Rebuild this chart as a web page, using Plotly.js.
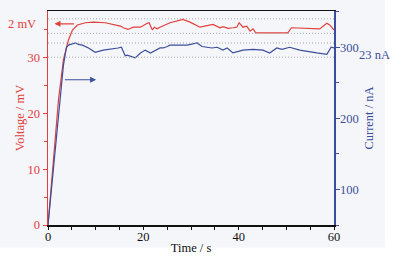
<!DOCTYPE html>
<html><head><meta charset="utf-8">
<script src="https://cdn.plot.ly/plotly-3.0.1.min.js"></script>
<style>html,body{margin:0;padding:0;background:#fff}</style>
</head><body>
<div id="chart" style="width:397px;height:260px"></div>
<script>
const voltageTime = [0,0.52,1.36,2.2,3.24,4.29,5.13,6.17,7.85,9.5,12.0,13.1,14.1,15.2,15.8,16.8,17.9,19.4,20.8,21.2,21.9,22.3,22.9,23.5,25.6,28.3,29.8,31.9,34.6,36.1,36.7,37.8,38.8,39.6,40.1,40.9,41.7,42.4,43.0,43.6,50.3,51.1,57.0,58.5,59.1,60];
const voltage = [0,5.1,13.5,22.4,29.6,33.1,34.9,35.8,36.2,36.3,36.2,36.0,35.7,35.6,35.3,35.0,35.4,35.4,36.1,36.2,34.9,35.4,35.1,35.4,36.2,36.8,36.3,35.4,35.9,35.3,35.5,35.2,35.3,35.4,36.2,35.4,35.6,34.7,35.1,34.4,34.4,35.3,35.1,36.1,35.8,34.9];
const currentTime = [0,1.15,2.2,3.24,3.87,4.29,5.75,6.4,7.2,8.5,9.9,11.6,14.7,15.4,16.2,16.6,18.3,19.4,20.4,21.5,23.5,24.2,25.0,25.6,29.2,31.3,32.3,33.4,34.4,35.5,36.7,37.6,38.8,40.9,43.0,45.1,46.5,48.0,49.1,50.7,52.8,56.4,58.5,59.4,60];
const current = [50,131,211,275,300,303,306,304,303,299,293,296,299,300,288,289,285,292,296,292,299,299,301,303,303,306,301,300,299,300,296,299,292,296,297,296,292,299,297,300,296,292,290,300,299];
const voltageBand = [34.3, 36.9];
const currentBand = [286, 306];
const voltageBandLabel = "2 mV";
const currentBandLabel = "23 nA";

const red = "#e2403c", blue = "#3b4e9c";
const font = "Liberation Serif, Times New Roman, serif";

const traces = [
  {x: voltageTime, y: voltage, type: "scatter", mode: "lines", line: {color: red, width: 1.2}, yaxis: "y", hoverinfo: "skip"},
  {x: currentTime, y: current, type: "scatter", mode: "lines", line: {color: blue, width: 1.2}, yaxis: "y2", hoverinfo: "skip"}
];

const shapes = [
  {type: "rect", xref: "paper", yref: "paper", x0: -0.17, x1: 1.178, y0: -0.105, y1: 1.06, fillcolor: "#f5f6f9", line: {width: 0}, layer: "below"}
];
voltageBand.forEach(v => shapes.push({type: "line", xref: "paper", yref: "y", x0: 0, x1: 1, y0: v, y1: v, line: {color: "#a8a8a8", width: 1, dash: "1px,2px"}}));
currentBand.forEach(v => shapes.push({type: "line", xref: "paper", yref: "y2", x0: 0, x1: 1, y0: v, y1: v, line: {color: "#a8a8a8", width: 1, dash: "1px,2px"}}));

const layout = {
  width: 397, height: 260,
  margin: {l: 47.5, r: 63, t: 11, b: 34.5},
  paper_bgcolor: "#ffffff", plot_bgcolor: "rgba(0,0,0,0)",
  showlegend: false,
  font: {family: font, size: 12, color: "#111"},
  xaxis: {range: [0, 60], dtick: 20, ticks: "outside", ticklen: 3, tickcolor: "#111", ticklabelstandoff: -4,
    minor: {dtick: 5, ticks: "outside", ticklen: 3, tickcolor: "#111"},
    showline: true, linecolor: "#111", linewidth: 1.5, mirror: true, showgrid: false, zeroline: false,
    tickfont: {family: font, size: 12.5, color: "#111"},
    title: {text: "Time / s", font: {family: font, size: 12.5, color: "#111"}, standoff: 0}},
  yaxis: {range: [0, 38.3], dtick: 10, ticks: "outside", ticklen: 4, tickcolor: red,
    minor: {dtick: 5, ticks: "outside", ticklen: 3, tickcolor: red},
    showline: true, linecolor: red, linewidth: 1.5, showgrid: false, zeroline: false,
    tickfont: {family: font, size: 12.5, color: red},
    title: {text: "Voltage / mV", font: {family: font, size: 12.5, color: red}, standoff: 0}},
  yaxis2: {range: [50, 351], dtick: 100, overlaying: "y", side: "right", ticks: "outside", ticklen: 4, tickcolor: blue, ticklabelstandoff: -2,
    minor: {dtick: 50, ticks: "outside", ticklen: 3, tickcolor: blue},
    showline: true, linecolor: blue, linewidth: 1.5, showgrid: false, zeroline: false,
    tickfont: {family: font, size: 12.5, color: blue},
    title: {text: "Current / nA", font: {family: font, size: 12.5, color: blue}, standoff: 6}},
  shapes: shapes,
  annotations: [
    {x: 1.36, y: 36.0, xref: "x", yref: "y", ax: 5.75, ay: 36.0, axref: "x", ayref: "y", showarrow: true, arrowhead: 2, arrowsize: 1, arrowwidth: 1.2, arrowcolor: red, text: ""},
    {x: 10.1, y: 26.0, xref: "x", yref: "y", ax: 3.24, ay: 26.0, axref: "x", ayref: "y", showarrow: true, arrowhead: 2, arrowsize: 1, arrowwidth: 1.2, arrowcolor: blue, text: ""},
    {x: -0.035, y: 36.0, xref: "paper", yref: "y", xanchor: "right", yanchor: "middle", showarrow: false, text: voltageBandLabel, font: {family: font, size: 12.5, color: red}},
    {x: 1.082, y: 289, xref: "paper", yref: "y2", xanchor: "left", yanchor: "middle", showarrow: false, text: currentBandLabel, font: {family: font, size: 12.5, color: blue}}
  ]
};
Plotly.newPlot("chart", traces, layout, {displayModeBar: false, staticPlot: true});
</script>
</body></html>
